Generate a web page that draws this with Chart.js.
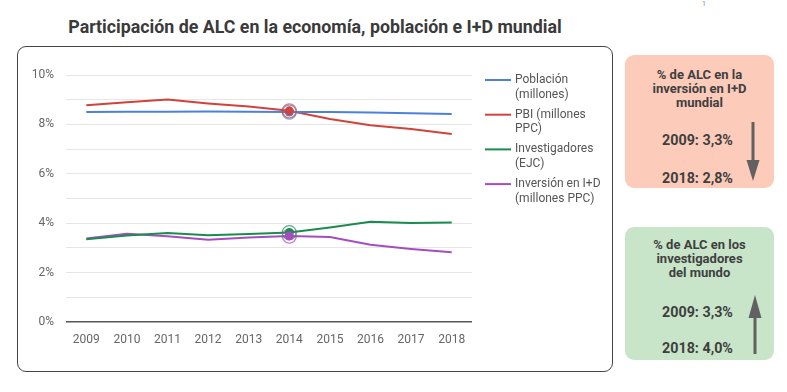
<!DOCTYPE html>
<html>
<head>
<meta charset="utf-8">
<script src="https://cdn.jsdelivr.net/npm/chart.js@4/dist/chart.umd.min.js"></script>
<style>
  html, body { margin: 0; padding: 0; background: #fff; }
  body { width: 787px; height: 392px; position: relative; overflow: hidden; font-family: Roboto, "Noto Sans", sans-serif; }
  #title { position: absolute; left: 315px; top: 16px; white-space: nowrap; font-size: 17.8px; font-weight: 700; color: #3a3a3a; line-height: 22px; transform: translateX(-50%); transform-origin: center; }
  #note { position: absolute; left: 702px; top: 0px; font-size: 7px; color: #888; }
  #box { position: absolute; left: 17px; top: 46px; width: 596px; height: 326px; box-sizing: border-box; border: 1.5px solid #444; border-radius: 9px; }
  #chart { position: absolute; left: 0; top: 0; }
  .panel { position: absolute; left: 625px; width: 149px; height: 133px; border-radius: 9px; color: #3f3f3f; font-weight: 700; }
  .panel .head { position: absolute; left: 0; width: 149px; text-align: center; font-size: 13px; line-height: 14.3px; }
  .panel .num { position: absolute; left: 0; width: 145px; text-align: center; font-size: 14.3px; line-height: 16px; }
  #p1 { top: 55px; background: #fdcbb9; }
  #p2 { top: 227px; background: #c8e5c9; }
  #arrows { position: absolute; left: 0; top: 0; }
</style>
</head>
<body>
<div id="title">Participación de ALC en la economía, población e I+D mundial</div>
<div id="note">1</div>
<div id="box"></div>
<div class="panel" id="p1">
  <div class="head" style="top:12.5px">% de ALC en la<br>inversión en I+D<br>mundial</div>
  <div class="num" style="top:77px">2009: 3,3%</div>
  <div class="num" style="top:115px">2018: 2,8%</div>
</div>
<div class="panel" id="p2">
  <div class="head" style="top:10.5px">% de ALC en los<br>investigadores<br>del mundo</div>
  <div class="num" style="top:77px">2009: 3,3%</div>
  <div class="num" style="top:113px">2018: 4,0%</div>
</div>
<svg id="arrows" width="787" height="392">
  <line x1="753" y1="122" x2="753" y2="162" stroke="#616161" stroke-width="3"/>
  <polygon points="746.5,160 759.5,160 753,181" fill="#616161"/>
  <line x1="755" y1="316" x2="755" y2="354" stroke="#616161" stroke-width="3"/>
  <polygon points="748.5,318 761.5,318 755,295" fill="#616161"/>
</svg>
<canvas id="chart" width="787" height="392"></canvas>
<script>
const years = ['2009','2010','2011','2012','2013','2014','2015','2016','2017','2018'];
const poblacion = [8.50, 8.51, 8.51, 8.52, 8.51, 8.50, 8.50, 8.48, 8.45, 8.42];
const pbi = [8.78, 8.90, 9.01, 8.85, 8.72, 8.55, 8.22, 7.97, 7.81, 7.61];
const investigadores = [3.35, 3.50, 3.60, 3.51, 3.56, 3.62, 3.83, 4.06, 4.01, 4.03];
const inversion = [3.38, 3.57, 3.47, 3.33, 3.42, 3.48, 3.44, 3.13, 2.96, 2.82];
const seriesNames = [['Población', '(millones)'], ['PBI (millones', 'PPC)'], ['Investigadores', '(EJC)'], ['Inversión en I+D', '(millones PPC)']];
const seriesColors = ['#4a82d9', '#d3423a', '#198c4f', '#a54dbf'];
const yTickValues = [0, 2, 4, 6, 8, 10];
const highlightIndex = 5;

Chart.defaults.font.family = 'Roboto';

const highlightPlugin = {
  id: 'highlight',
  afterDatasetsDraw(chart) {
    const ctx = chart.ctx;
    ctx.save();
    chart.data.datasets.forEach((ds, i) => {
      const pt = chart.getDatasetMeta(i).data[highlightIndex];
      ctx.beginPath();
      ctx.arc(pt.x, pt.y, 7, 0, Math.PI * 2);
      ctx.strokeStyle = ds.borderColor;
      ctx.globalAlpha = 0.7;
      ctx.lineWidth = 1.3;
      ctx.stroke();
    });
    ctx.globalAlpha = 1;
    chart.data.datasets.forEach((ds, i) => {
      const pt = chart.getDatasetMeta(i).data[highlightIndex];
      ctx.beginPath();
      ctx.arc(pt.x, pt.y, 4.5, 0, Math.PI * 2);
      ctx.fillStyle = ds.borderColor;
      ctx.fill();
    });
    ctx.restore();
  }
};

const legendPlugin = {
  id: 'customLegend',
  afterDraw(chart) {
    const ctx = chart.ctx;
    ctx.save();
    ctx.font = '12px Roboto';
    ctx.textBaseline = 'middle';
    ctx.textAlign = 'left';
    const x0 = chart.chartArea.right + 13;
    let y = 80;
    chart.data.datasets.forEach((ds, i) => {
      ctx.strokeStyle = ds.borderColor;
      ctx.lineWidth = 2;
      ctx.beginPath();
      ctx.moveTo(x0, y);
      ctx.lineTo(x0 + 26, y);
      ctx.stroke();
      ctx.fillStyle = '#555';
      ds.legendLines.forEach((line, j) => {
        ctx.fillText(line, x0 + 30, y + j * 14.5);
      });
      y += 34.7;
    });
    ctx.restore();
  }
};

new Chart(document.getElementById('chart'), {
  type: 'line',
  data: {
    labels: years,
    datasets: [poblacion, pbi, investigadores, inversion].map((vals, i) => ({
      label: seriesNames[i].join(' '),
      legendLines: seriesNames[i],
      data: vals,
      borderColor: seriesColors[i],
      backgroundColor: seriesColors[i],
      borderWidth: 2,
      pointRadius: 0,
      tension: 0,
      fill: false
    }))
  },
  options: {
    responsive: false,
    animation: false,
    events: [],
    layout: { padding: { left: 0, right: 315, top: 75, bottom: 46 } },
    plugins: { legend: { display: false }, tooltip: { enabled: false }, title: { display: false } },
    scales: {
      x: {
        offset: true,
        grid: { display: false },
        border: { display: false },
        ticks: { color: '#666', font: { size: 12 }, padding: 3, maxRotation: 0 },
        afterFit: s => { s.height = 24; }
      },
      y: {
        min: 0, max: 10,
        ticks: {
          stepSize: 1, color: '#666', font: { size: 12 }, padding: 12,
          callback: v => yTickValues.includes(v) ? v + '%' : ''
        },
        grid: {
          drawTicks: false,
          color: c => c.tick && c.tick.value === 0 ? '#555' : '#e6e6e6',
          lineWidth: c => c.tick && c.tick.value === 0 ? 1.5 : 1
        },
        border: { display: false },
        afterFit: s => { s.width = 66; }
      }
    }
  },
  plugins: [highlightPlugin, legendPlugin]
});
</script>
</body>
</html>
